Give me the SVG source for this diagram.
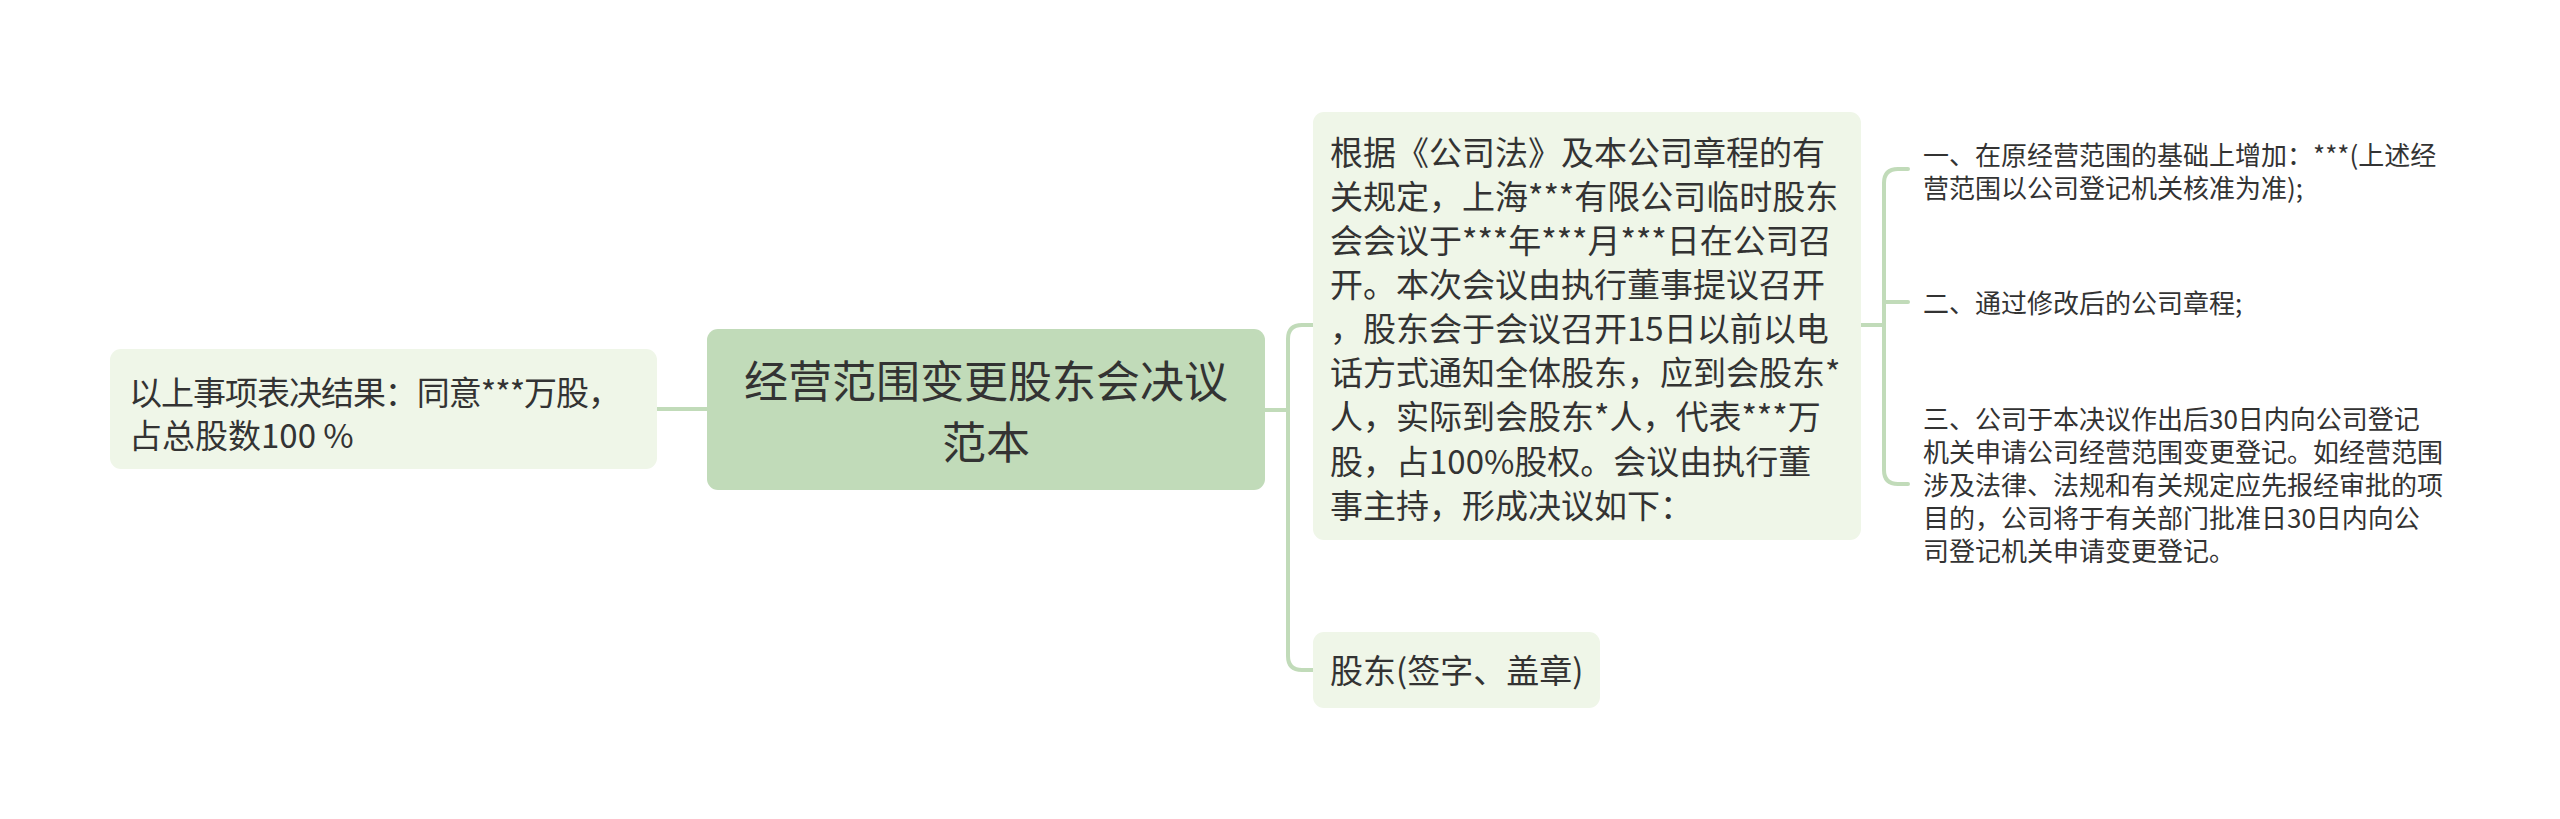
<svg xmlns="http://www.w3.org/2000/svg" width="2560" height="819" viewBox="0 0 2560 819">
<style>
.t{font-family:"Noto Sans CJK SC","Noto Sans",sans-serif;fill:#333333}
.m{font-size:33px}
.s{font-size:26px}
.c{font-size:44px;text-anchor:middle}
.sub{fill:#eff6e8}
.root{fill:#c1dbb9}
.ln{fill:none;stroke:#c1dbb9;stroke-width:4;stroke-linecap:round}
</style>
<rect width="2560" height="819" fill="#ffffff"/>
<g id="connectors">
<path class="ln" d="M657,409 H707"/>
<path class="ln" d="M1265,410 H1288"/>
<path class="ln" d="M1313,325 H1302 Q1288,325 1288,339 V656 Q1288,670 1302,670 H1313"/>
<path class="ln" d="M1861,325 H1884"/>
<path class="ln" d="M1908,169 H1898 Q1884,169 1884,183 V470 Q1884,484 1898,484 H1908"/>
<path class="ln" d="M1884,302 Q1884,302 1898,302 H1908"/>
</g>
<g id="root">
<rect class="root" x="707" y="329" width="558" height="161" rx="11"/>
<text class="t c" x="986" y="398">经营范围变更股东会决议</text>
<text class="t c" x="986" y="459">范本</text>
</g>
<g id="left">
<rect class="sub" x="110" y="349" width="547" height="120" rx="11"/>
<text class="t m" x="129" y="404.5" textLength="492" lengthAdjust="spacing">以上事项表决结果：同意***万股，</text>
<text class="t m" x="129" y="447.5">占总股数100 %</text>
</g>
<g id="meeting">
<rect class="sub" x="1313" y="112" width="548" height="428" rx="11"/>
<text class="t m" x="1330" y="164.8">根据《公司法》及本公司章程的有</text>
<text class="t m" x="1330" y="208.9">关规定，上海***有限公司临时股东</text>
<text class="t m" x="1330" y="253">会会议于***年***月***日在公司召</text>
<text class="t m" x="1330" y="297.1">开。本次会议由执行董事提议召开</text>
<text class="t m" x="1330" y="341.2">，股东会于会议召开15日以前以电</text>
<text class="t m" x="1330" y="385.3">话方式通知全体股东，应到会股东*</text>
<text class="t m" x="1330" y="429.4">人，实际到会股东*人，代表***万</text>
<text class="t m" x="1330" y="473.5">股，占100%股权。会议由执行董</text>
<text class="t m" x="1330" y="517.6">事主持，形成决议如下：</text>
</g>
<g id="sign">
<rect class="sub" x="1313" y="632" width="287" height="76" rx="11"/>
<text class="t m" x="1330" y="682.5">股东(签字、盖章)</text>
</g>
<g id="item1">
<text class="t s" x="1923" y="165">一、在原经营范围的基础上增加：***(上述经</text>
<text class="t s" x="1923" y="198">营范围以公司登记机关核准为准);</text>
</g>
<g id="item2">
<text class="t s" x="1923" y="313">二、通过修改后的公司章程;</text>
</g>
<g id="item3">
<text class="t s" x="1923" y="429">三、公司于本决议作出后30日内向公司登记</text>
<text class="t s" x="1923" y="462">机关申请公司经营范围变更登记。如经营范围</text>
<text class="t s" x="1923" y="495">涉及法律、法规和有关规定应先报经审批的项</text>
<text class="t s" x="1923" y="528">目的，公司将于有关部门批准日30日内向公</text>
<text class="t s" x="1923" y="561">司登记机关申请变更登记。</text>
</g>
</svg>
